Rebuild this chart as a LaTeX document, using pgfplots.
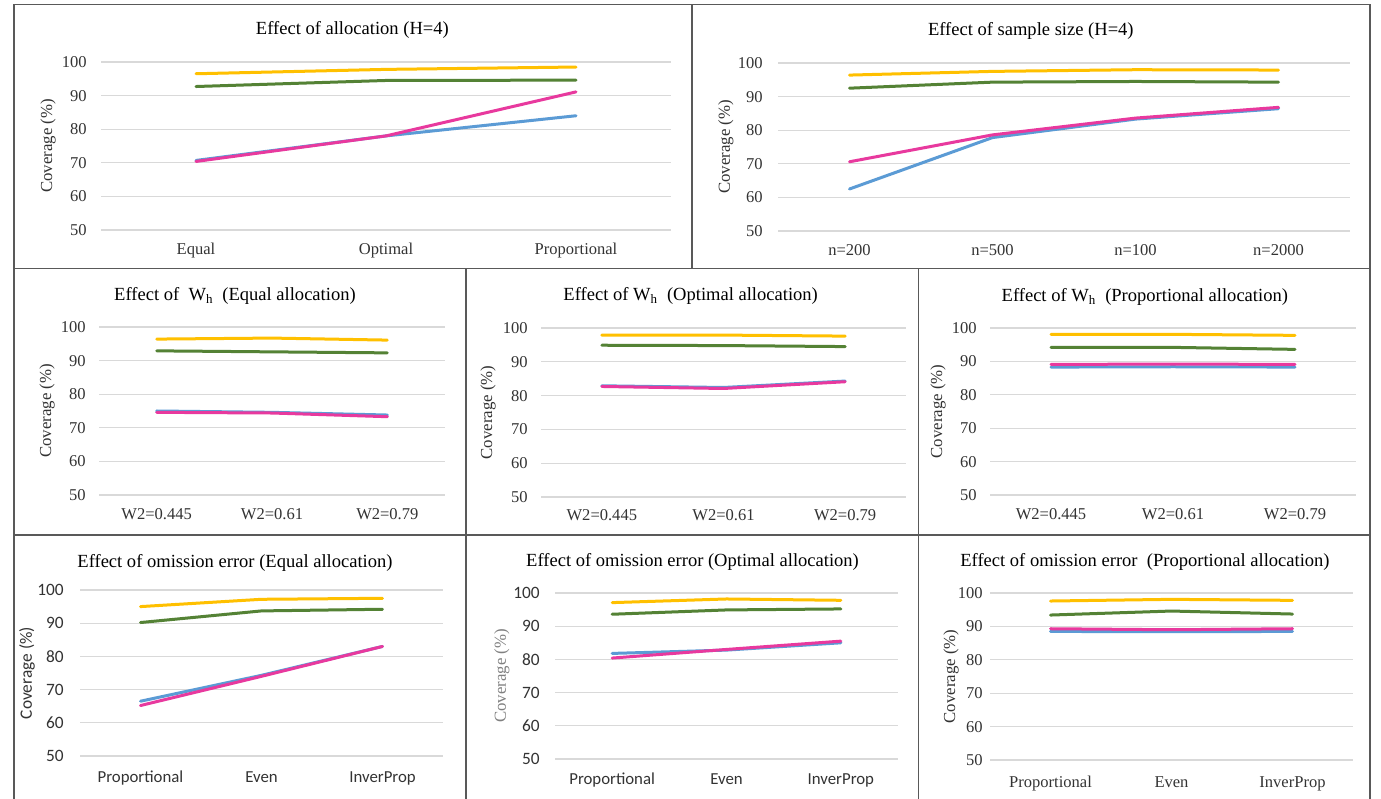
\documentclass[border=0pt]{standalone}
\usepackage{fontspec}
\setmainfont{Liberation Serif}
\newfontfamily\sansf{Carlito}
\usepackage{pgfplots}
\pgfplotsset{compat=1.18}
\definecolor{cy}{HTML}{FFC000}
\definecolor{cg}{HTML}{548235}
\definecolor{cb}{HTML}{5B9BD5}
\definecolor{cp}{HTML}{E8399E}
\definecolor{gridc}{HTML}{D9D9D9}
\definecolor{bordc}{HTML}{595959}
\definecolor{tickc}{HTML}{333333}
\newcommand\tickfont{\fontsize{12.4}{14}\selectfont}
\newcommand\ttlfont{\fontsize{13.9}{16}\selectfont}
\newcommand\labfont{\fontsize{12.6}{14}\selectfont}
\pgfplotsset{
  every axis title/.style={font=\ttlfont, anchor=base, inner sep=0pt},
  panel/.style={
    scale only axis, anchor=south west, clip=false,
    ymin=50, ymax=100, ytick={50,60,70,80,90,100},
    /pgf/number format/assume math mode=true,
    axis line style={draw=none}, tick style={draw=none},
    ymajorgrids, grid style={line width=0.9pt, color=gridc},
    xticklabel style={anchor=base, inner sep=0pt, font=\tickfont, text=tickc},
    yticklabel style={anchor=east, inner sep=0pt, font=\tickfont, text=tickc},
    ylabel={Coverage (\%)}, ylabel style={font=\labfont, anchor=center, text=tickc},
    every axis plot/.append style={line width=2.25pt, line cap=round, line join=round, mark=none},
  },
  three/.style={xmin=-0.5, xmax=2.5, xtick={0,1,2}},
  four/.style={xmin=-0.5, xmax=3.5, xtick={0,1,2,3}},
}
\begin{document}
\begin{tikzpicture}
\useasboundingbox (0,0) rectangle (1035.75pt,599.25pt);
\fill[white] (0,0) rectangle (1035.75pt,599.25pt);
\begin{scope}[x=0.75pt,y=-0.75pt,shift={(0,599.25pt)}]
\draw[bordc, line width=0.9pt] (14,4.5) rectangle (692,268.5);
\draw[bordc, line width=0.9pt] (692,4.5) rectangle (1370,268.5);
\draw[bordc, line width=0.9pt] (14,268.5) rectangle (466,535);
\draw[bordc, line width=0.9pt] (466,268.5) rectangle (918.5,535);
\draw[bordc, line width=0.9pt] (918.5,268.5) rectangle (1370,535);
\draw[bordc, line width=0.9pt] (14,535) rectangle (466,805);
\draw[bordc, line width=0.9pt] (466,535) rectangle (918.5,805);
\draw[bordc, line width=0.9pt] (918.5,535) rectangle (1370,805);
\end{scope}

% P1
\begin{axis}[panel, three, at={(75.75pt,426.75pt)}, width=427.5pt, height=126pt,
  xticklabels={Equal,Optimal,Proportional},
  yticklabel style={xshift=-10.5pt}, xticklabel style={yshift=-18.75pt},
  ylabel style={at={(axis description cs:-0.093,0.5)}},
  title={Effect of allocation (H=4)}, title style={at={(axis description cs:0.441,1.161)}}]
\addplot[cy] coordinates {(0,96.5) (1,97.8) (2,98.5)};
\addplot[cg] coordinates {(0,92.7) (1,94.5) (2,94.6)};
\addplot[cb] coordinates {(0,70.7) (1,78.0) (2,84.0)};
\addplot[cp] coordinates {(0,70.4) (1,78.0) (2,91.1)};
\end{axis}

% P2
\begin{axis}[panel, four, at={(583.5pt,426pt)}, width=429pt, height=126pt,
  xticklabels={n=200,n=500,n=100,n=2000},
  yticklabel style={xshift=-11.25pt}, xticklabel style={yshift=-18.75pt},
  ylabel style={at={(axis description cs:-0.091,0.5)}},
  title={Effect of sample size (H=4)}, title style={at={(axis description cs:0.442,1.161)}}]
\addplot[cy] coordinates {(0,96.4) (1,97.5) (2,98.0) (3,97.9)};
\addplot[cg] coordinates {(0,92.5) (1,94.3) (2,94.5) (3,94.3)};
\addplot[cb] coordinates {(0,62.5) (1,77.8) (2,83.3) (3,86.4)};
\addplot[cp] coordinates {(0,70.6) (1,78.6) (2,83.6) (3,86.8)};
\end{axis}

% P3
\begin{axis}[panel, three, at={(74.25pt,228pt)}, width=259.5pt, height=126pt,
  xticklabels={W2=0.445,W2=0.61,W2=0.79},
  yticklabel style={xshift=-9.75pt}, xticklabel style={yshift=-18.75pt},
  ylabel style={at={(axis description cs:-0.150,0.5)}},
  title={Effect of\ \ W\textsubscript{h}\ \ (Equal allocation)}, title style={at={(axis description cs:0.393,1.155)}}]
\addplot[cy] coordinates {(0,96.4) (1,96.7) (2,96.1)};
\addplot[cg] coordinates {(0,92.9) (1,92.6) (2,92.3)};
\addplot[cb] coordinates {(0,75.0) (1,74.6) (2,73.8)};
\addplot[cp] coordinates {(0,74.6) (1,74.4) (2,73.3)};
\end{axis}

% P4
\begin{axis}[panel, three, at={(405.75pt,226.5pt)}, width=273.75pt, height=126.75pt,
  xticklabels={W2=0.445,W2=0.61,W2=0.79},
  yticklabel style={xshift=-9.75pt}, xticklabel style={yshift=-18pt},
  ylabel style={at={(axis description cs:-0.145,0.5)}},
  title={Effect of W\textsubscript{h}\ \ (Optimal allocation)}, title style={at={(axis description cs:0.410,1.160)}}]
\addplot[cy] coordinates {(0,97.9) (1,97.9) (2,97.6)};
\addplot[cg] coordinates {(0,94.9) (1,94.8) (2,94.5)};
\addplot[cb] coordinates {(0,82.9) (1,82.4) (2,84.3)};
\addplot[cp] coordinates {(0,82.7) (1,82.1) (2,84.1)};
\end{axis}

% P5
\begin{axis}[panel, three, at={(742.5pt,228pt)}, width=274.5pt, height=125.25pt,
  xticklabels={W2=0.445,W2=0.61,W2=0.79},
  yticklabel style={xshift=-9.75pt}, xticklabel style={yshift=-18.75pt},
  ylabel style={at={(axis description cs:-0.142,0.5)}},
  title={Effect of W\textsubscript{h}\ \ (Proportional allocation)}, title style={at={(axis description cs:0.423,1.156)}}]
\addplot[cy] coordinates {(0,98.1) (1,98.1) (2,97.8)};
\addplot[cg] coordinates {(0,94.2) (1,94.2) (2,93.6)};
\addplot[cb] coordinates {(0,88.3) (1,88.4) (2,88.3)};
\addplot[cp] coordinates {(0,89.1) (1,89.2) (2,89.1)};
\end{axis}

% P6
\begin{axis}[panel, three, at={(60pt,32.25pt)}, width=272.25pt, height=124.5pt,
  xticklabels={Proportional,Even,InverProp},
  yticklabel style={xshift=-12pt, font=\sansf\fontsize{13}{15}\selectfont},
  xticklabel style={yshift=-20.25pt, font=\sansf\fontsize{12.6}{15}\selectfont},
  ylabel style={at={(axis description cs:-0.146,0.5)}, font=\sansf\fontsize{13}{15}\selectfont},
  title={Effect of omission error (Equal allocation)}, title style={at={(axis description cs:0.427,1.133)}}]
\addplot[cy] coordinates {(0,95.0) (1,97.2) (2,97.5)};
\addplot[cg] coordinates {(0,90.2) (1,93.7) (2,94.2)};
\addplot[cb] coordinates {(0,66.5) (1,74.3) (2,83.0)};
\addplot[cp] coordinates {(0,65.2) (1,74.0) (2,83.0)};
\end{axis}

% P7
\begin{axis}[panel, three, at={(416.25pt,30pt)}, width=257.25pt, height=124.5pt,
  xticklabels={Proportional,Even,InverProp},
  yticklabel style={xshift=-11.25pt, font=\sansf\fontsize{13}{15}\selectfont},
  xticklabel style={yshift=-19.5pt, font=\sansf\fontsize{12.6}{15}\selectfont},
  ylabel style={at={(axis description cs:-0.155,0.5)}, text=gray},
  title={Effect of omission error (Optimal allocation)}, title style={at={(axis description cs:0.401,1.157)}}]
\addplot[cy] coordinates {(0,97.1) (1,98.2) (2,97.8)};
\addplot[cg] coordinates {(0,93.6) (1,94.9) (2,95.2)};
\addplot[cb] coordinates {(0,81.8) (1,82.8) (2,85.0)};
\addplot[cp] coordinates {(0,80.4) (1,83.0) (2,85.5)};
\end{axis}

% P8
\begin{axis}[panel, three, at={(742.5pt,29.25pt)}, width=272.25pt, height=125.25pt,
  xticklabels={Proportional,Even,InverProp},
  yticklabel style={xshift=-5.25pt}, xticklabel style={yshift=-20.25pt},
  ylabel style={at={(axis description cs:-0.107,0.5)}},
  title={Effect of omission error\ \ (Proportional allocation)}, title style={at={(axis description cs:0.427,1.156)}}]
\addplot[cy] coordinates {(0,97.6) (1,98.1) (2,97.8)};
\addplot[cg] coordinates {(0,93.4) (1,94.6) (2,93.7)};
\addplot[cb] coordinates {(0,88.5) (1,88.4) (2,88.5)};
\addplot[cp] coordinates {(0,89.3) (1,89.0) (2,89.3)};
\end{axis}
\end{tikzpicture}
\end{document}
